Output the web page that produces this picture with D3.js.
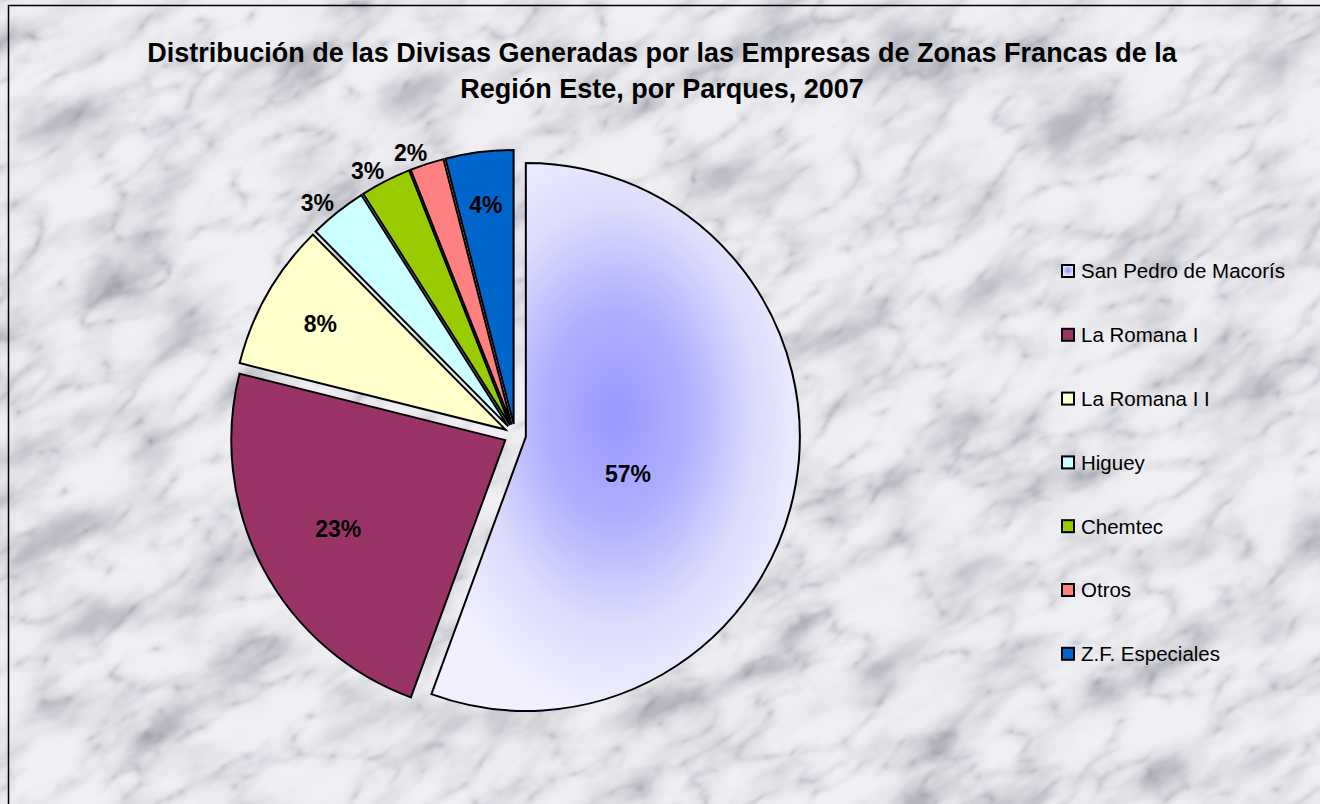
<!DOCTYPE html>
<html>
<head>
<meta charset="utf-8">
<script src="https://cdn.jsdelivr.net/npm/d3@7"></script>
<style>
  html, body { margin: 0; padding: 0; background: #fff; }
  svg { display: block; font-family: Arial, "Liberation Sans", sans-serif; }
</style>
</head>
<body>
<div id="chart"></div>
<script>
// Divisas generadas por zonas francas, Región Este, 2007 (share by park)
const parks = ['San Pedro de Macorís', 'La Romana I', 'La Romana I I', 'Higuey', 'Chemtec', 'Otros', 'Z.F. Especiales']
const shares = [55.6, 23.3, 8.7, 3.4, 3.0, 2.0, 4.0]
const pctLabels = ['57%', '23%', '8%', '3%', '3%', '2%', '4%']
const colors = ['url(#spmGrad)', '#993366', '#FFFFCC', '#CCFFFF', '#99CC00', '#FF8080', '#0066CC']
const titleLines = ['Distribución de las Divisas Generadas por las Empresas de Zonas Francas de la', 'Región Este, por Parques, 2007']

const W = 1320, H = 804
const cx = 515, cy = 435, r = 274, explode = 11

const svg = d3.select('#chart')
    .append('svg')
    .attr('width', W)
    .attr('height', H)

const defs = svg.append('defs')

// marble background: soft clouds multiplied by thin veins
const marble = defs.append('filter')
    .attr('id', 'marble')
    .attr('filterUnits', 'userSpaceOnUse')
    .attr('x', -600).attr('y', -600)
    .attr('width', 2600).attr('height', 2000)
    .attr('color-interpolation-filters', 'sRGB')

marble.append('feTurbulence')
    .attr('type', 'fractalNoise')
    .attr('baseFrequency', '0.009 0.02')
    .attr('numOctaves', 6)
    .attr('seed', 4)
    .attr('result', 'n1')
marble.append('feColorMatrix')
    .attr('in', 'n1')
    .attr('type', 'matrix')
    .attr('values', '1 0 0 0 0  1 0 0 0 0  1 0 0 0 0  0 0 0 0 1')
    .attr('result', 'g1')
const clouds = marble.append('feComponentTransfer').attr('in', 'g1').attr('result', 'c1')
clouds.append('feFuncR').attr('type', 'table').attr('tableValues', '0.7 0.72 0.75 0.82 0.885 0.92 0.935 0.94 0.94 0.94 0.94')
clouds.append('feFuncG').attr('type', 'table').attr('tableValues', '0.7 0.72 0.75 0.82 0.885 0.92 0.935 0.94 0.94 0.94 0.94')
clouds.append('feFuncB').attr('type', 'table').attr('tableValues', '0.74 0.76 0.79 0.85 0.905 0.94 0.955 0.96 0.96 0.96 0.96')

marble.append('feTurbulence')
    .attr('type', 'turbulence')
    .attr('baseFrequency', '0.01 0.022')
    .attr('numOctaves', 4)
    .attr('seed', 9)
    .attr('result', 'n2')
marble.append('feColorMatrix')
    .attr('in', 'n2')
    .attr('type', 'matrix')
    .attr('values', '1 0 0 0 0  1 0 0 0 0  1 0 0 0 0  0 0 0 0 1')
    .attr('result', 'g2')
const veins = marble.append('feComponentTransfer').attr('in', 'g2').attr('result', 'c2')
veins.append('feFuncR').attr('type', 'table').attr('tableValues', '0.8 0.93 0.98 1 1 1 1 1 1 1')
veins.append('feFuncG').attr('type', 'table').attr('tableValues', '0.8 0.93 0.98 1 1 1 1 1 1 1')
veins.append('feFuncB').attr('type', 'table').attr('tableValues', '0.82 0.94 0.98 1 1 1 1 1 1 1')

marble.append('feBlend').attr('in', 'c1').attr('in2', 'c2').attr('mode', 'multiply')
marble.append('feGaussianBlur').attr('stdDeviation', 1.1)

// gradient fill for the largest slice (light edges, blue centre)
const grad = defs.append('radialGradient')
    .attr('id', 'spmGrad')
    .attr('cx', 0.5).attr('cy', 0.46).attr('r', 0.55)
grad.append('stop').attr('offset', 0).attr('stop-color', '#9999FF')
grad.append('stop').attr('offset', 0.35).attr('stop-color', '#AFAFFF')
grad.append('stop').attr('offset', 0.7).attr('stop-color', '#DDDDFC')
grad.append('stop').attr('offset', 1).attr('stop-color', '#F0F0FF')

const clip = defs.append('clipPath').attr('id', 'pageClip')
clip.append('rect').attr('width', W).attr('height', H)

svg.append('g')
    .attr('clip-path', 'url(#pageClip)')
    .append('g')
    .attr('transform', `rotate(-30, ${W / 2}, ${H / 2})`)
    .append('rect')
    .attr('x', -500).attr('y', -500)
    .attr('width', 2400).attr('height', 1800)
    .attr('filter', 'url(#marble)')

// chart border (right/bottom edges fall outside the picture)
svg.append('rect')
    .attr('x', 8.5).attr('y', 5.5)
    .attr('width', W + 50).attr('height', H + 50)
    .attr('fill', 'none')
    .attr('stroke', '#000')
    .attr('stroke-width', 1.5)

// title
svg.append('text')
    .attr('text-anchor', 'middle')
    .attr('font-size', 27)
    .attr('font-weight', 'bold')
    .attr('fill', '#000')
    .selectAll('tspan')
    .data(titleLines)
    .join('tspan')
    .attr('x', 662)
    .attr('y', (d, i) => 62 + i * 35.5)
    .text(d => d)

// pie
const pie = d3.pie().sort(null).value(d => d)
const arcs = pie(shares)
const arc = d3.arc().innerRadius(0).outerRadius(r)
const total = d3.sum(shares)

const pieG = svg.append('g').attr('transform', `translate(${cx},${cy})`)

const slices = pieG.selectAll('g.slice')
    .data(arcs)
    .join('g')
    .attr('class', 'slice')
    .attr('transform', d => {
        const mid = (d.startAngle + d.endAngle) / 2
        return `translate(${explode * Math.sin(mid)},${-explode * Math.cos(mid)})`
    })

slices.append('path')
    .attr('d', arc)
    .attr('fill', (d, i) => colors[i])
    .attr('stroke', '#000')
    .attr('stroke-width', 2)
    .attr('stroke-linejoin', 'miter')

// percentage labels: thin slices get theirs outside the rim
const isOutside = d => d.value / total < 0.035
slices.append('text')
    .attr('transform', d => {
        const mid = (d.startAngle + d.endAngle) / 2
        const frac = d.value / total
        let dist, dx = 0, dy = 0
        if (isOutside(d)) { dist = r + 12; dx = 4 }
        else if (frac > 0.5) { dist = r * 0.36; dx = 5; dy = 20 }
        else dist = r * (0.83 - 0.6 * frac)
        return `translate(${dist * Math.sin(mid) + dx},${-dist * Math.cos(mid) + dy})`
    })
    .attr('text-anchor', d => isOutside(d) ? 'end' : 'middle')
    .attr('dy', '0.36em')
    .attr('font-size', 23)
    .attr('font-weight', 'bold')
    .attr('fill', '#000')
    .text((d, i) => pctLabels[i])

// legend
const legend = svg.append('g')
    .selectAll('g')
    .data(parks)
    .join('g')
    .attr('transform', (d, i) => `translate(1062,${271 + i * 63.8})`)

legend.append('rect')
    .attr('x', 0).attr('y', -6)
    .attr('width', 12).attr('height', 12)
    .attr('fill', (d, i) => colors[i])
    .attr('stroke', '#000')
    .attr('stroke-width', 2)

legend.append('text')
    .attr('x', 19)
    .attr('dy', '0.36em')
    .attr('font-size', 20.5)
    .attr('fill', '#000')
    .text(d => d)
</script>
</body>
</html>
